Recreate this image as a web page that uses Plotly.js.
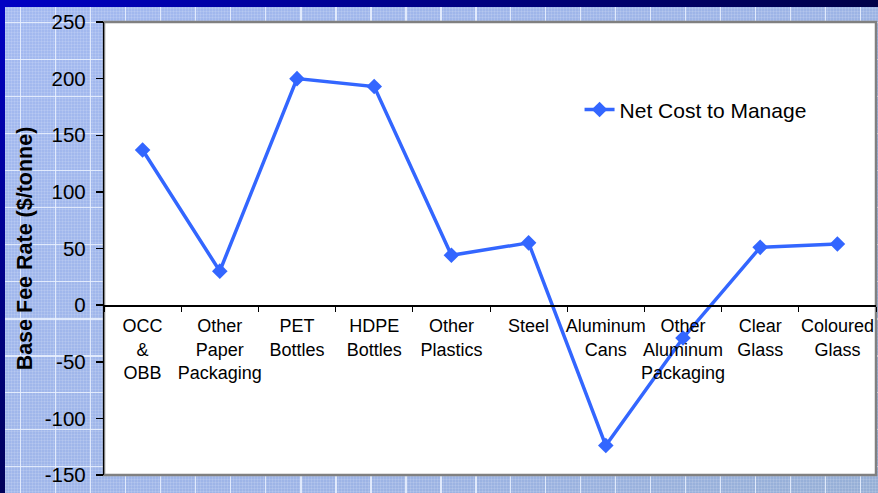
<!DOCTYPE html>
<html>
<head>
<meta charset="utf-8">
<script src="https://cdn.plot.ly/plotly-3.0.1.min.js"></script>
<style>
  html, body { margin: 0; padding: 0; }
  #wrap {
    position: relative; width: 878px; height: 493px; overflow: hidden;
    background:
      linear-gradient(to right, #0000c4, #000048) top left / 100% 7px no-repeat,
      linear-gradient(to bottom, #0000c4, #00005a) top left / 5px 100% no-repeat,
      repeating-linear-gradient(to right, transparent 0px, transparent 20px, rgba(235,242,255,0.85) 20px, rgba(235,242,255,0.85) 21.5px, transparent 21.5px, transparent 35px),
      repeating-linear-gradient(to bottom, transparent 0px, transparent 22px, rgba(235,242,255,0.85) 22px, rgba(235,242,255,0.85) 23.5px, transparent 23.5px, transparent 37px),
      repeating-linear-gradient(to right, transparent 0px, transparent 2px, rgba(255,255,255,0.12) 2px, rgba(255,255,255,0.12) 3px),
      repeating-linear-gradient(to bottom, transparent 0px, transparent 2px, rgba(255,255,255,0.12) 2px, rgba(255,255,255,0.12) 3px),
      linear-gradient(135deg, #a3b9f0 0%, #9db4e6 60%, #96afd6 100%);
  }
  #chart { position: absolute; left: 0; top: 0; width: 878px; height: 493px; }
</style>
</head>
<body>
<div id="wrap"><div id="chart"></div></div>
<script>
// Data
const categories = [
  "OCC<br>&<br>OBB",
  "Other<br>Paper<br>Packaging",
  "PET<br>Bottles",
  "HDPE<br>Bottles",
  "Other<br>Plastics",
  "Steel",
  "Aluminum<br>Cans",
  "Other<br>Aluminum<br>Packaging",
  "Clear<br>Glass",
  "Coloured<br>Glass"
];
const netCost = [137, 30, 200, 193, 44, 55, -124, -29, 51, 54];
const seriesName = "Net Cost to Manage";
const yTickVals = [-150, -100, -50, 0, 50, 100, 150, 200, 250];
const yTitle = "Base Fee Rate ($/tonne)";

const trace = {
  x: categories,
  y: netCost,
  type: 'scatter',
  mode: 'lines+markers',
  name: seriesName,
  line: { color: '#3366ff', width: 3.5 },
  marker: { symbol: 'diamond', size: 12, color: '#3366ff' },
  cliponaxis: false
};

const layout = {
  width: 878, height: 493,
  margin: { l: 104, r: 2, t: 22, b: 18, pad: 0 },
  paper_bgcolor: 'rgba(0,0,0,0)',
  plot_bgcolor: '#ffffff',
  font: { family: 'Arial, "Liberation Sans", sans-serif', color: '#000000' },
  showlegend: true,
  legend: {
    x: 0.616, y: 0.806, xanchor: 'left', yanchor: 'middle',
    bgcolor: 'rgba(0,0,0,0)', font: { size: 21, color: '#000' }
  },
  xaxis: {
    type: 'category',
    anchor: 'free', position: 0.375,
    showline: true, linecolor: '#000000', linewidth: 1.5,
    ticks: 'outside', tickson: 'boundaries', ticklen: 5, tickcolor: '#000', tickwidth: 1,
    tickangle: 0, ticklabelstandoff: 4,
    tickfont: { size: 18, color: '#000' },
    showgrid: false, zeroline: false,
    range: [-0.5, 9.5], fixedrange: true
  },
  yaxis: {
    range: [-150, 250],
    tickvals: yTickVals,
    ticktext: yTickVals.map(v => String(v) + '\u00a0'),
    showline: true, linecolor: '#000000', linewidth: 1.5,
    ticks: 'outside', ticklen: 7, tickcolor: '#000', tickwidth: 1.5,
    tickfont: { size: 20.5, color: '#000' },
    showgrid: false, zeroline: false,
    title: { text: yTitle, font: { size: 21.5, color: '#000', weight: 'bold' }, standoff: 6 }
  },
  shapes: [{
    type: 'rect', xref: 'paper', yref: 'paper', x0: 0, x1: 1, y0: 0, y1: 1,
    line: { color: '#808080', width: 2.5 }, layer: 'below'
  }]
};

Plotly.newPlot('chart', [trace], layout, { displayModeBar: false, staticPlot: true });
</script>
</body>
</html>
